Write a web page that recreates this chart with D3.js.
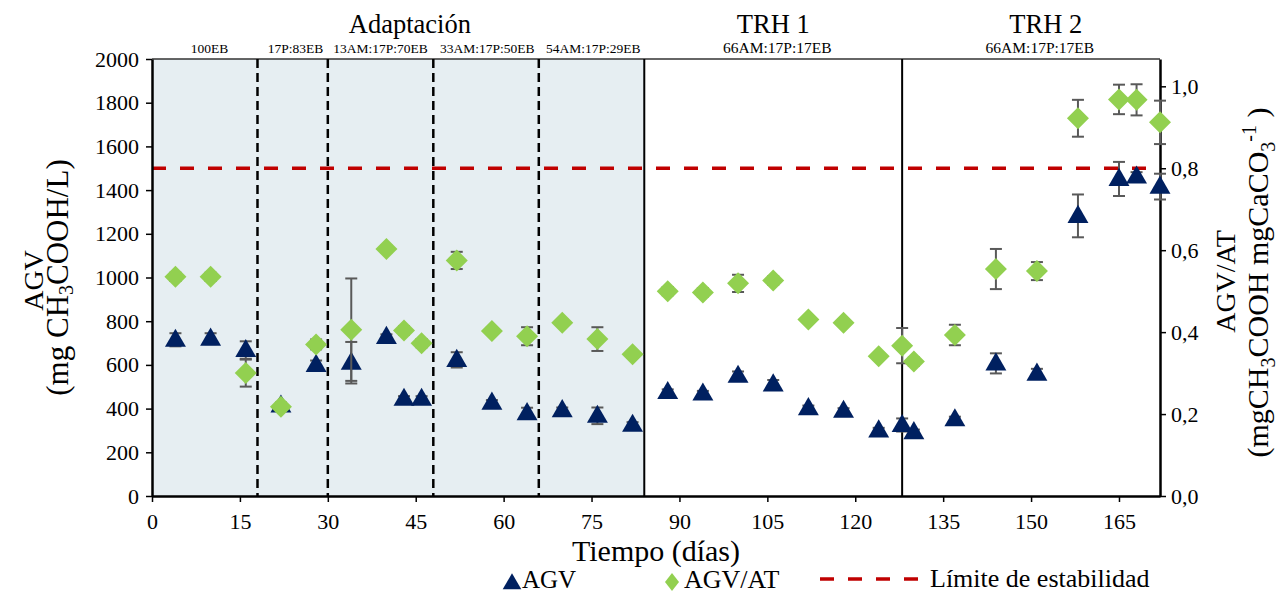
<!DOCTYPE html>
<html>
<head>
<meta charset="utf-8">
<script src="https://cdn.jsdelivr.net/npm/d3@7"></script>
<style>
  body { margin: 0; background: #fff; }
  text { font-family: "Liberation Serif", "Times New Roman", serif; fill: #000; }
</style>
</head>
<body>
<div id="chart"></div>
<script>
// datos
var days = [4, 10, 16, 22, 28, 34, 40, 43, 46, 52, 58, 64, 70, 76, 82, 88, 94, 100, 106, 112, 118, 124, 128, 130, 137, 144, 151, 158, 165, 168, 172];
var agv = [715, 720, 668, 414, 600, 610, 728, 445, 445, 623, 427, 379, 393, 367, 326, 476, 469, 550, 511, 402, 390, 300, 325, 292, 351, 607, 560, 1282, 1451, 1462, 1416];
var agvErr = [30, 25, 40, 12, 20, 95, 12, 12, 12, 35, 12, 25, 12, 38, 12, 12, 12, 20, 20, 12, 12, 12, 30, 12, 12, 46, 22, 98, 78, 20, 59];
var ratio = [0.535, 0.535, 0.300, 0.218, 0.370, 0.406, 0.603, 0.404, 0.373, 0.575, 0.403, 0.390, 0.423, 0.383, 0.346, 0.500, 0.497, 0.519, 0.526, 0.431, 0.423, 0.341, 0.367, 0.328, 0.393, 0.554, 0.549, 0.922, 0.968, 0.967, 0.912];
var ratioErr = [0.01, 0.01, 0.033, 0.01, 0.012, 0.125, 0.008, 0.01, 0.01, 0.021, 0.008, 0.022, 0.008, 0.029, 0.008, 0.01, 0.01, 0.021, 0.01, 0.008, 0.008, 0.008, 0.043, 0.01, 0.025, 0.049, 0.022, 0.045, 0.036, 0.038, 0.053];

var xTicks = [0, 15, 30, 45, 60, 75, 90, 105, 120, 135, 150, 165];
var yTicks = [0, 200, 400, 600, 800, 1000, 1200, 1400, 1600, 1800, 2000];
var y2Ticks = [0, 0.2, 0.4, 0.6, 0.8, 1.0];

var dashedDividers = [18, 30, 48, 66];
var solidDividers = [84, 128];
var shadedEnd = 84;
var stabilityLimit = 1500;

var phaseNames = ["Adaptación", "TRH 1", "TRH 2"];
var phaseCenters = [44, 106, 152.5];
var dietNames = ["100EB", "17P:83EB", "13AM:17P:70EB", "33AM:17P:50EB", "54AM:17P:29EB", "66AM:17P:17EB", "66AM:17P:17EB"];
var dietCenters = [9.8, 24.5, 39, 57.2, 75.3, 106.7, 151.5];
var dietSizes = [13.5, 13.5, 13.5, 13.5, 13.5, 15.5, 15.5];

var svgWidth = 1279;
var svgHeight = 594;

var plot = { left: 152, right: 1160, top: 59, bottom: 496 };

var svg = d3.select("#chart")
    .append("svg")
    .attr("width", svgWidth)
    .attr("height", svgHeight);

var data = days.map(function(d, i) {
    return { day: d, agv: agv[i], agvErr: agvErr[i], ratio: ratio[i], ratioErr: ratioErr[i] };
});

var xScale = d3.scaleLinear().domain([0, 172]).range([plot.left, plot.right]);
var yScale = d3.scaleLinear().domain([0, 2000]).range([plot.bottom, plot.top]);
var y2Scale = d3.scaleLinear().domain([0, 2000 * 0.8 / 1500]).range([plot.bottom, plot.top]);

// fondo de adaptacion
svg.append("rect")
    .attr("x", xScale(0))
    .attr("y", plot.top)
    .attr("width", xScale(shadedEnd) - xScale(0))
    .attr("height", plot.bottom - plot.top)
    .attr("fill", "#e6eef2");

// borde superior
svg.append("line")
    .attr("x1", plot.left).attr("x2", plot.right)
    .attr("y1", plot.top).attr("y2", plot.top)
    .attr("stroke", "#333")
    .attr("stroke-width", 1.5);

svg.selectAll(".dashDiv")
    .data(dashedDividers)
    .enter()
    .append("line")
    .attr("class", "dashDiv")
    .attr("x1", d => xScale(d)).attr("x2", d => xScale(d))
    .attr("y1", plot.top).attr("y2", plot.bottom)
    .attr("stroke", "#000")
    .attr("stroke-width", 2.5)
    .attr("stroke-dasharray", "9,5");

svg.selectAll(".solidDiv")
    .data(solidDividers)
    .enter()
    .append("line")
    .attr("class", "solidDiv")
    .attr("x1", d => xScale(d)).attr("x2", d => xScale(d))
    .attr("y1", plot.top).attr("y2", plot.bottom)
    .attr("stroke", "#000")
    .attr("stroke-width", 2);

// limite de estabilidad
svg.append("line")
    .attr("x1", plot.left).attr("x2", plot.right)
    .attr("y1", yScale(stabilityLimit)).attr("y2", yScale(stabilityLimit))
    .attr("stroke", "#c00000")
    .attr("stroke-width", 3.5)
    .attr("stroke-dasharray", "14,14");

// ejes
var bottomAxis = d3.axisBottom(xScale).tickValues(xTicks).tickSize(6).tickSizeOuter(0);
var leftAxis = d3.axisLeft(yScale).tickValues(yTicks).tickSize(6).tickSizeOuter(0).tickFormat(d3.format("d"));
var rightAxis = d3.axisRight(y2Scale).tickValues(y2Ticks).tickSize(6).tickSizeOuter(0)
    .tickFormat(d => d3.format(".1f")(d).replace(".", ","));

function styleAxis(g) {
    g.attr("font-family", null).attr("font-size", null);
    g.select(".domain").attr("stroke", "#000").attr("stroke-width", 2.5);
    g.selectAll(".tick line").attr("stroke", "#000").attr("stroke-width", 1.5);
    g.selectAll(".tick text")
        .style("font-size", "22px")
        .attr("fill", "#000");
}

svg.append("g")
    .attr("transform", `translate(0, ${plot.bottom})`)
    .call(bottomAxis)
    .call(styleAxis)
    .selectAll(".tick text").attr("dy", "1.1em");

svg.append("g")
    .attr("transform", `translate(${plot.left}, 0)`)
    .call(leftAxis)
    .call(styleAxis)
    .selectAll(".tick text").attr("x", -13);

svg.append("g")
    .attr("transform", `translate(${plot.right}, 0)`)
    .call(rightAxis)
    .call(styleAxis)
    .selectAll(".tick text").attr("x", 11);

// barras de error
function errBars(cls, getY, getE, scale) {
    var g = svg.append("g").attr("class", cls)
        .attr("stroke", "#595959")
        .attr("stroke-width", 2);
    g.selectAll("line.v")
        .data(data)
        .enter()
        .append("line")
        .attr("class", "v")
        .attr("x1", d => xScale(d.day)).attr("x2", d => xScale(d.day))
        .attr("y1", d => scale(getY(d) + getE(d))).attr("y2", d => scale(getY(d) - getE(d)));
    [1, -1].forEach(function(s) {
        g.selectAll("line.c" + (s > 0 ? "t" : "b"))
            .data(data)
            .enter()
            .append("line")
            .attr("class", "c" + (s > 0 ? "t" : "b"))
            .attr("x1", d => xScale(d.day) - 6).attr("x2", d => xScale(d.day) + 6)
            .attr("y1", d => scale(getY(d) + s * getE(d)))
            .attr("y2", d => scale(getY(d) + s * getE(d)));
    });
}

errBars("agvErr", d => d.agv, d => d.agvErr, yScale);

var triangle = d3.symbol().type(d3.symbolTriangle).size(190);
var diamond = "M0,-11L11,0L0,11L-11,0Z";

svg.append("g")
    .selectAll("path")
    .data(data)
    .enter()
    .append("path")
    .attr("d", triangle)
    .attr("transform", d => `translate(${xScale(d.day)}, ${yScale(d.agv) + 1})`)
    .attr("fill", "#002060");

errBars("ratioErr", d => d.ratio, d => d.ratioErr, y2Scale);

svg.append("g")
    .selectAll("path")
    .data(data)
    .enter()
    .append("path")
    .attr("d", diamond)
    .attr("transform", d => `translate(${xScale(d.day)}, ${y2Scale(d.ratio)})`)
    .attr("fill", "#92d050");

// textos de fases
svg.selectAll(".phase")
    .data(phaseNames)
    .enter()
    .append("text")
    .attr("class", "phase")
    .attr("x", (d, i) => xScale(phaseCenters[i]))
    .attr("y", 33)
    .attr("text-anchor", "middle")
    .style("font-size", "26.5px")
    .text(d => d);

svg.selectAll(".diet")
    .data(dietNames)
    .enter()
    .append("text")
    .attr("class", "diet")
    .attr("x", (d, i) => xScale(dietCenters[i]))
    .attr("y", 53)
    .attr("text-anchor", "middle")
    .style("font-size", (d, i) => dietSizes[i] + "px")
    .text(d => d);

// titulos de ejes
svg.append("text")
    .attr("x", 656)
    .attr("y", 561)
    .attr("text-anchor", "middle")
    .style("font-size", "30px")
    .text("Tiempo (días)");

var midY = (plot.top + plot.bottom) / 2;

svg.append("text")
    .attr("transform", `translate(43, ${midY + 3}) rotate(-90)`)
    .attr("text-anchor", "middle")
    .style("font-size", "28px")
    .text("AGV");

var yl2 = svg.append("text")
    .attr("transform", `translate(68, ${midY}) rotate(-90)`)
    .attr("text-anchor", "middle")
    .style("font-size", "31px");
yl2.append("tspan").text("(mg CH");
yl2.append("tspan").attr("dy", 5).style("font-size", "20px").text("3");
yl2.append("tspan").attr("dy", -5).text("COOH/L)");

svg.append("text")
    .attr("transform", `translate(1235, ${midY + 4}) rotate(-90)`)
    .attr("text-anchor", "middle")
    .style("font-size", "28px")
    .text("AGV/AT");

var r2 = svg.append("text")
    .attr("transform", `translate(1268, ${midY + 5}) rotate(-90)`)
    .attr("text-anchor", "middle")
    .style("font-size", "30px");
r2.append("tspan").text("(mgCH");
r2.append("tspan").attr("dy", 7).style("font-size", "20px").text("3");
r2.append("tspan").attr("dy", -7).text("COOH mgCaCO");
r2.append("tspan").attr("dy", 7).style("font-size", "20px").text("3");
r2.append("tspan").attr("dy", -19).style("font-size", "20px").text("-1");
r2.append("tspan").attr("dy", 12).text(" )");

// leyenda
var legend = svg.append("g");
legend.append("path")
    .attr("d", d3.symbol().type(d3.symbolTriangle).size(150))
    .attr("transform", "translate(512, 584)")
    .attr("fill", "#002060");
legend.append("text").attr("x", 522).attr("y", 588).style("font-size", "25px").text("AGV");
legend.append("path")
    .attr("d", "M0,-9L7,0L0,9L-7,0Z")
    .attr("transform", "translate(672, 582)")
    .attr("fill", "#92d050");
legend.append("text").attr("x", 684).attr("y", 588).style("font-size", "26px").text("AGV/AT");
legend.append("line")
    .attr("x1", 820).attr("x2", 918)
    .attr("y1", 579).attr("y2", 579)
    .attr("stroke", "#c00000")
    .attr("stroke-width", 3.5)
    .attr("stroke-dasharray", "14,14");
legend.append("text").attr("x", 930).attr("y", 587).style("font-size", "26px").text("Límite de estabilidad");
</script>
</body>
</html>
